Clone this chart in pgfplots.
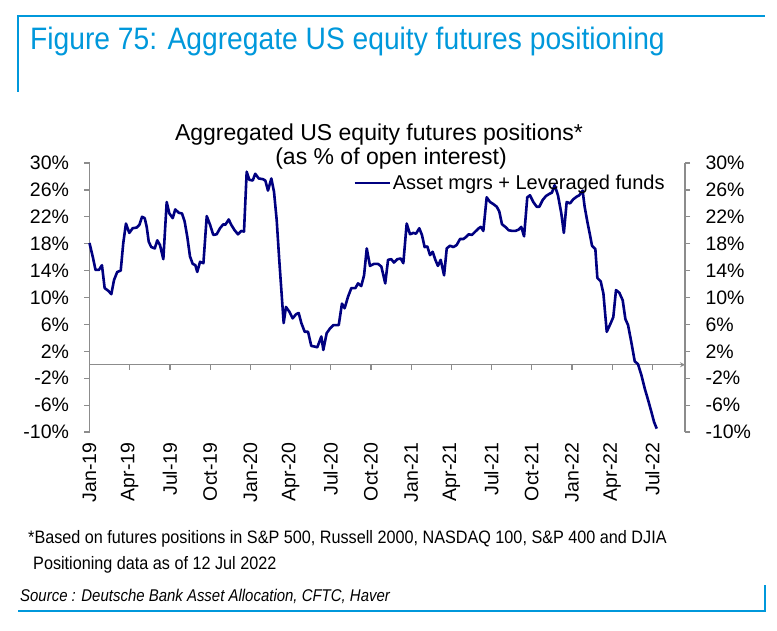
\documentclass[border=0pt]{standalone}
\usepackage{pgfplots}
\usepackage{pgfplotstable}
\pgfplotsset{compat=1.18}
\usepackage{fontspec}
\setmainfont{Liberation Sans}
\newfontfamily\condfont[FakeStretch=0.91]{Liberation Sans}
\newfontfamily\notefont[FakeStretch=0.90]{Liberation Sans}
\newfontfamily\srcfont[FakeStretch=0.88]{Liberation Sans}
\definecolor{dbblue}{RGB}{0,152,219}
\definecolor{navyline}{RGB}{0,0,128}
\definecolor{axgray}{RGB}{140,140,140}
\pgfplotstableread{
m v
0.00 18.1
0.25 16.0
0.45 14.1
0.70 14.1
0.93 14.8
1.13 11.4
1.40 11.0
1.63 10.5
1.83 12.6
2.07 13.8
2.33 14.0
2.52 18.1
2.72 21.0
2.97 19.6
3.22 20.3
3.52 20.4
3.72 20.8
3.92 22.0
4.12 21.8
4.27 20.5
4.42 18.3
4.61 17.5
4.87 17.3
5.06 18.5
5.26 17.8
5.51 15.7
5.76 24.2
5.96 22.5
6.21 21.8
6.40 23.1
6.66 22.6
6.90 22.5
7.10 21.3
7.30 19.0
7.50 16.1
7.70 15.0
7.90 14.8
8.04 13.8
8.25 15.3
8.50 15.1
8.75 22.1
9.00 20.8
9.24 19.3
9.49 19.4
9.74 20.3
9.99 20.9
10.13 20.8
10.39 21.6
10.58 20.8
10.83 20.0
11.08 19.4
11.33 19.9
11.53 19.8
11.73 28.7
11.93 27.5
12.18 27.4
12.37 28.4
12.63 27.7
12.93 27.6
13.12 27.4
13.32 25.9
13.57 27.7
13.77 25.7
13.97 21.5
14.16 15.6
14.37 9.6
14.49 6.2
14.66 8.6
14.91 7.9
15.16 6.9
15.41 7.5
15.61 7.7
15.81 6.2
16.06 4.9
16.31 4.9
16.55 2.8
16.80 2.7
17.00 2.6
17.30 4.2
17.45 2.2
17.70 4.7
17.95 5.4
18.20 5.9
18.60 5.9
18.84 9.1
19.04 8.4
19.29 10.1
19.54 11.4
19.84 11.4
20.04 12.1
20.28 11.7
20.49 13.3
20.69 17.3
20.93 14.7
21.23 15.0
21.53 15.0
21.78 14.6
22.07 12.1
22.28 15.6
22.52 15.7
22.72 15.2
22.97 15.7
23.22 15.8
23.42 15.1
23.67 21.0
23.92 19.4
24.16 19.6
24.37 19.5
24.61 20.3
24.81 19.3
25.01 17.5
25.21 17.6
25.41 16.3
25.61 16.8
25.81 15.6
26.00 14.7
26.21 15.6
26.46 13.3
26.66 17.3
26.90 17.7
27.15 17.5
27.40 17.8
27.65 18.7
27.90 18.7
28.10 19.0
28.30 19.4
28.54 19.3
28.79 19.8
29.05 20.3
29.20 20.5
29.39 19.9
29.64 24.9
29.89 24.2
30.13 23.9
30.39 23.5
30.58 22.8
30.78 20.9
31.03 20.5
31.28 20.0
31.53 19.9
31.78 19.9
32.03 20.1
32.22 20.5
32.43 19.1
32.67 24.9
32.87 25.2
33.12 24.2
33.37 23.5
33.57 23.5
33.82 24.5
34.07 25.1
34.31 25.4
34.51 25.6
34.71 26.7
34.96 25.2
35.21 22.5
35.40 19.6
35.61 24.2
35.86 24.0
36.10 24.6
36.36 25.0
36.55 25.2
36.80 25.9
36.95 23.5
37.15 21.3
37.35 19.3
37.50 17.7
37.75 17.2
37.90 12.9
38.15 12.4
38.35 10.6
38.60 4.9
38.90 6.2
39.09 7.1
39.29 11.1
39.54 10.7
39.79 9.6
39.99 6.8
40.19 5.9
40.43 3.4
40.69 0.5
40.93 0.1
41.18 -1.5
41.43 -3.5
41.68 -5.2
41.93 -7.0
42.13 -8.5
42.33 -9.5
}\datatable
\pgfplotsset{
  common/.style={
    scale only axis, width=595.5pt, height=269pt,
    at={(89.5pt,198pt)}, anchor=south west,
    xmin=0, xmax=44.44, ymin=-10, ymax=30,
    axis line style={axgray, line width=1.2pt, -},
    tick style={axgray, line width=1.2pt},
    major tick length=5pt,
    ytick={-10,-6,...,30},
    tick label style={font=\fontsize{19.5}{19.5}\selectfont, text=black},
    clip=false,
  }
}
\begin{document}
\begin{tikzpicture}[x=1pt,y=1pt]
\path[use as bounding box] (0,0) rectangle (777,630);
\draw[dbblue, line width=2.2pt] (18,538) -- (18,614) -- (765,614);
\draw[dbblue, line width=2.2pt] (18,19) -- (765,19) -- (765,45);
\node[anchor=base west, text=dbblue, font=\condfont\fontsize{31}{31}\selectfont, inner sep=0] at (30,580) {Figure 75: Aggregate US equity futures positioning};
\node[anchor=base, font=\fontsize{23}{23}\selectfont, inner sep=0] at (379,489) {Aggregated US equity futures positions*};
\node[anchor=base, font=\fontsize{23}{23}\selectfont, inner sep=0] at (391,465) {(as \% of open interest)};
\node[anchor=base west, font=\notefont\fontsize{18}{18}\selectfont, inner sep=0] at (28,87) {*Based on futures positions in S\&P 500, Russell 2000, NASDAQ 100, S\&P 400 and DJIA};
\node[anchor=base west, font=\notefont\fontsize{18}{18}\selectfont, inner sep=0] at (33,61) {Positioning data as of 12 Jul 2022};
\node[anchor=base west, font=\srcfont\itshape\fontsize{17}{17}\selectfont, inner sep=0] at (20,29) {Source : Deutsche Bank Asset Allocation, CFTC, Haver};
% right axis and zero line
\begin{axis}[common,
  axis x line=middle, axis y line*=right,
  xtick={3,6,...,42}, xticklabels={}, xtick align=outside,
  ytick align=outside, yticklabel pos=right,
  yticklabel style={xshift=12pt},
  yticklabels={-10\%,-6\%,-2\%,2\%,6\%,10\%,14\%,18\%,22\%,26\%,30\%},
]
\end{axis}
% main axis
\begin{axis}[common,
  axis y line*=left, axis x line*=bottom,
  x axis line style={draw=none},
  xtick={0,3,...,42}, xtick style={draw=none},
  xticklabels={Jan-19,Apr-19,Jul-19,Oct-19,Jan-20,Apr-20,Jul-20,Oct-20,Jan-21,Apr-21,Jul-21,Oct-21,Jan-22,Apr-22,Jul-22},
  xticklabel style={yshift=-7pt, rotate=90, anchor=east},
  ytick align=outside,
  yticklabel style={xshift=-12pt},
  yticklabels={-10\%,-6\%,-2\%,2\%,6\%,10\%,14\%,18\%,22\%,26\%,30\%},
  legend style={at={(axis description cs:0.4425,0.9257)}, anchor=west, draw=none, fill=none, inner sep=0pt, font=\fontsize{20}{20}\selectfont},
  legend image code/.code={\draw[#1, line width=2.6pt] (0pt,0pt) -- (35pt,0pt);},
]
\addplot[navyline, line width=2.6pt, line join=round] table[x=m, y=v] {\datatable};
\addlegendentry{Asset mgrs + Leveraged funds}
\end{axis}
\end{tikzpicture}
\end{document}
